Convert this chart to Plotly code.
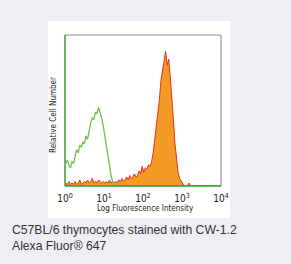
import numpy as np
import plotly.graph_objects as go

# bin centres in log10 units (bin width 0.04 decade)
log_centers = [round(0.02 + 0.04 * i, 2) for i in range(100)]

# Unstained / control (green) histogram, % of axis height
green_counts = [15, 17, 14, 12, 16, 15, 20, 24, 22, 27, 26, 29, 28, 33, 31, 38,
                42, 45, 44, 49, 48, 52, 49, 45, 40, 33, 26, 19, 13, 7, 3, 1, 0.5]
green_counts += [0] * (100 - len(green_counts))

# CW-1.2 Alexa Fluor 647 stained (orange/red) histogram, % of axis height
stained_counts = [2, 1, 3, 1, 2, 1, 3, 1, 2, 4, 1, 2, 3, 2, 4, 2, 3, 5, 2, 3,
                  2, 4, 3, 2, 3, 2, 3, 2, 4, 2, 3, 2, 3, 2, 4, 3, 5, 3, 4, 6,
                  4, 7, 5, 6, 8, 6, 7, 10, 8, 13, 9, 12, 11, 14, 13, 16, 22, 30, 38, 47,
                  57, 70, 76, 83, 89, 80, 84, 72, 60, 44, 28, 17, 9, 5, 3, 1, 0, 0, 0, 2,
                  0]
stained_counts += [0] * (100 - len(stained_counts))

tick_vals = [1, 10, 100, 1000, 10000]
tick_text = ["10<sup>0</sup>", "10<sup>1</sup>", "10<sup>2</sup>", "10<sup>3</sup>", "10<sup>4</sup>"]

x_vals = [10 ** v for v in log_centers]

fig = go.Figure()
fig.add_trace(go.Scatter(
    x=x_vals, y=stained_counts, mode="lines", fill="tozeroy",
    fillcolor="#f39a24", line=dict(color="#e0321c", width=1), hoverinfo="skip"))
fig.add_trace(go.Scatter(
    x=x_vals, y=green_counts, mode="lines",
    line=dict(color="#72c043", width=1.3), hoverinfo="skip"))

L, R, T, B = 65, 70, 35, 78
pw, ph = 291 - L - R, 264 - T - B

def px(xp):
    return (xp - L) / pw

def py(yp):
    return (264 - B - yp) / ph

shapes = [
    dict(type="rect", xref="paper", yref="paper", x0=px(48), x1=px(230), y0=py(218), y1=py(21),
         fillcolor="white", line=dict(width=0), layer="below"),
    dict(type="line", xref="paper", yref="paper", x0=0, x1=1, y0=1, y1=1, line=dict(color="#8a8a8a", width=1)),
    dict(type="line", xref="paper", yref="paper", x0=1, x1=1, y0=0, y1=1, line=dict(color="#8a8a8a", width=1)),
    dict(type="line", xref="paper", yref="paper", x0=0, x1=0, y0=0, y1=1, line=dict(color="#3a9a30", width=1.5)),
    dict(type="line", xref="paper", yref="paper", x0=0, x1=1, y0=0, y1=0, line=dict(color="#3a9a30", width=1.5)),
]

cap_font = dict(family="Liberation Sans, Arial", size=12.2, color="#333333")
small_font = dict(family="DejaVu Sans Condensed, DejaVu Sans", size=8, color="#1a1a1a")

annotations = [
    dict(text="C57BL/6 thymocytes stained with CW-1.2", xref="paper", yref="paper",
         x=px(10), y=py(230), xanchor="left", yanchor="middle", showarrow=False, font=cap_font),
    dict(text="Alexa Fluor® 647", xref="paper", yref="paper",
         x=px(10), y=py(246), xanchor="left", yanchor="middle", showarrow=False, font=cap_font),
    dict(text="Log Fluorescence Intensity", xref="paper", yref="paper",
         x=px(145), y=py(208.5), xanchor="center", yanchor="middle", showarrow=False, font=small_font),
    dict(text="Relative Cell Number", xref="paper", yref="paper", textangle=-90,
         x=px(53), y=py(115), xanchor="center", yanchor="middle", showarrow=False, font=small_font),
]

fig.update_layout(
    width=291, height=264, margin=dict(l=L, r=R, t=T, b=B, autoexpand=False),
    paper_bgcolor="#efeef5", plot_bgcolor="white", showlegend=False,
    shapes=shapes, annotations=annotations,
    xaxis=dict(type="log", range=[0, 4], tickvals=tick_vals, ticktext=tick_text,
               showgrid=False, zeroline=False, showline=False, ticks="",
               ticklabelstandoff=5,
               tickfont=dict(family="DejaVu Sans Condensed, DejaVu Sans", size=10, color="#1a1a1a")),
    yaxis=dict(range=[0, 100], showticklabels=False, showgrid=False, zeroline=False,
               showline=False, ticks=""),
)

fig.write_html("out.html")
